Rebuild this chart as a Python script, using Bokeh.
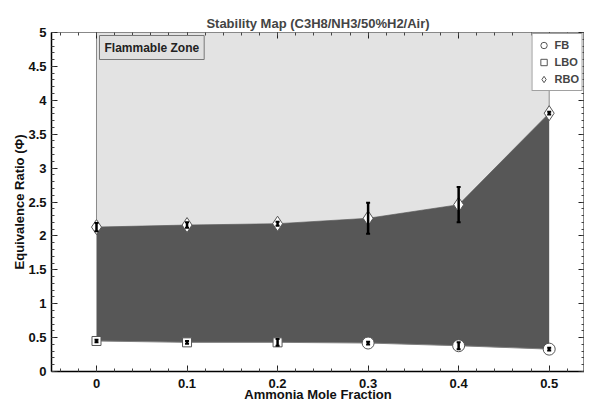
import numpy as np
from bokeh.plotting import figure
from bokeh.models import (ColumnDataSource, Whisker, TeeHead, FixedTicker, LinearAxis,
                          Label, Legend, LegendItem, CustomJSTickFormatter, Range1d)
from bokeh.embed import file_html
from bokeh.resources import INLINE

# ---- data ----
ammonia = [0.0, 0.1, 0.2, 0.3, 0.4, 0.5]
rbo = [2.13, 2.16, 2.18, 2.26, 2.46, 3.81]
rbo_err = [0.06, 0.04, 0.03, 0.23, 0.26, 0.02]
lower = [0.45, 0.43, 0.43, 0.42, 0.38, 0.33]
lower_err = [0.02, 0.02, 0.05, 0.02, 0.05, 0.02]
lower_kind = ["LBO", "LBO", "LBO", "FB", "FB", "FB"]
x_ticks = [0, 0.1, 0.2, 0.3, 0.4, 0.5]
y_ticks = [0, 0.5, 1, 1.5, 2, 2.5, 3, 3.5, 4, 4.5, 5]
y_max = 5

FONT = "Liberation Sans"

p = figure(width=584, height=404, output_backend="svg", toolbar_location=None,
           x_range=Range1d(-0.0497, 0.539), y_range=Range1d(0, y_max),
           min_border_left=51, min_border_right=0, min_border_top=32, min_border_bottom=32,
           title="Stability Map (C3H8/NH3/50%H2/Air)")
p.title.align = "center"
p.title.text_font = FONT
p.title.text_font_size = "13px"
p.title.text_font_style = "bold"
p.title.standoff = 4
p.xgrid.visible = False
p.ygrid.visible = False
p.outline_line_color = "#888888"
p.background_fill_color = "white"

# light (flammable) zone
light_x = [ammonia[0]] + ammonia + [ammonia[-1]]
light_y = [y_max] + rbo + [y_max]
p.patch(light_x, light_y, fill_color="#e3e3e3", line_color="#8a8a8a", line_width=1)

# dark zone between blow-off limits
p.varea(x=ammonia, y1=lower, y2=rbo, fill_color="#575757")
p.line(ammonia, lower, line_color="#808080", line_width=1)

# markers
lbo_x = [a for a, k in zip(ammonia, lower_kind) if k == "LBO"]
lbo_y = [v for v, k in zip(lower, lower_kind) if k == "LBO"]
fb_x = [a for a, k in zip(ammonia, lower_kind) if k == "FB"]
fb_y = [v for v, k in zip(lower, lower_kind) if k == "FB"]

r_rbo = p.scatter(ammonia, rbo, marker="diamond", size=15, fill_color="white",
                  line_color="#555555", line_width=1)
r_lbo = p.scatter(lbo_x, lbo_y, marker="square", size=9, fill_color="white",
                  line_color="#555555", line_width=1)
r_fb = p.scatter(fb_x, fb_y, marker="circle", size=12, fill_color="white",
                 line_color="#555555", line_width=1)

# error bars
def whisk(yv, ev):
    src = ColumnDataSource(dict(base=ammonia,
                                upper=[a + b for a, b in zip(yv, ev)],
                                lower=[a - b for a, b in zip(yv, ev)]))
    w = Whisker(base="base", upper="upper", lower="lower", source=src,
                line_color="black", line_width=2.5, level="overlay",
                upper_head=TeeHead(size=4, line_color="black", line_width=2),
                lower_head=TeeHead(size=4, line_color="black", line_width=2))
    p.add_layout(w)

whisk(rbo, rbo_err)
whisk(lower, lower_err)

# Flammable zone label
p.add_layout(Label(x=ammonia[0], y=y_max, x_offset=3, y_offset=-3,
                   text="Flammable Zone", anchor="top_left",
                   text_font=FONT, text_font_size="12px", text_font_style="bold",
                   text_color="#222222", padding=5,
                   background_fill_color="#e0e0e0", border_line_color="#777777",
                   border_line_width=1))

# legend
legend = Legend(items=[LegendItem(label="FB", renderers=[r_fb]),
                       LegendItem(label="LBO", renderers=[r_lbo]),
                       LegendItem(label="RBO", renderers=[r_rbo])],
                location="top_right", margin=1, padding=3, spacing=1,
                glyph_width=16, glyph_height=16, label_standoff=3,
                label_text_font=FONT, label_text_font_size="11px",
                label_text_font_style="bold",
                border_line_color="#444444", background_fill_color="white",
                background_fill_alpha=1)
p.add_layout(legend)

# axes
x_minor = list(np.round(np.arange(-0.04, 0.545, 0.02), 3))
y_minor = list(np.round(np.arange(0, 5.01, 0.1), 2))
fmt = CustomJSTickFormatter(code="return String(tick)")
blank = CustomJSTickFormatter(code="return ''")

def style_axis(ax, color="black", width=1.5):
    ax.major_tick_in = 6
    ax.major_tick_out = 0
    ax.minor_tick_in = 3
    ax.minor_tick_out = 0
    ax.axis_line_color = color
    ax.axis_line_width = width
    ax.major_tick_line_color = "#222222"
    ax.minor_tick_line_color = "#444444"
    ax.major_label_text_font = FONT
    ax.major_label_text_font_style = "bold"
    ax.major_label_text_font_size = "13px"
    ax.major_label_text_color = "#111111"
    ax.axis_label_text_font = FONT
    ax.axis_label_text_font_style = "bold"
    ax.axis_label_text_font_size = "13px"
    ax.axis_label_text_color = "#111111"

xa = p.xaxis[0]
xa.ticker = FixedTicker(ticks=x_ticks, minor_ticks=x_minor)
xa.formatter = fmt
xa.axis_label = "Ammonia Mole Fraction"
style_axis(xa)
xa.major_label_standoff = 7
xa.axis_label_standoff = -4

ya = p.yaxis[0]
ya.ticker = FixedTicker(ticks=y_ticks, minor_ticks=y_minor)
ya.formatter = fmt
ya.axis_label = "Equivalence Ratio (Φ)"
style_axis(ya)
ya.major_label_standoff = 5
ya.axis_label_standoff = -2

top = LinearAxis(ticker=FixedTicker(ticks=x_ticks, minor_ticks=x_minor), formatter=blank)
style_axis(top, color="#888888", width=1)
top.major_label_standoff = 0
p.add_layout(top, "above")

right = LinearAxis(ticker=FixedTicker(ticks=y_ticks, minor_ticks=y_minor), formatter=blank)
style_axis(right, color="#888888", width=1)
right.major_label_standoff = 0
p.add_layout(right, "right")

open("out.html", "w").write(file_html(p, INLINE))
